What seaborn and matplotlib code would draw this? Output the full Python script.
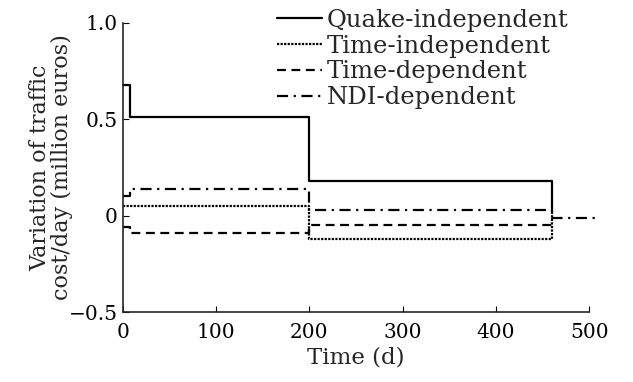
import matplotlib
matplotlib.use("Agg")
import matplotlib.pyplot as plt
import pandas as pd
import seaborn as sns

# Step series (time in days, value in million euros)
quake_t = [0, 8, 200, 460]
quake_v = [0.68, 0.51, 0.18, 0.03]

timeind_t = [0, 200, 460]
timeind_v = [0.05, -0.12, 0.03]

timedep_t = [0, 8, 200, 460]
timedep_v = [-0.06, -0.09, -0.05, -0.05]

ndi_t = [0, 8, 200, 460, 510]
ndi_v = [0.10, 0.14, 0.03, -0.01, -0.01]

labels = ["Quake-independent", "Time-independent", "Time-dependent", "NDI-dependent"]
x_ticks = [0, 100, 200, 300, 400, 500]
y_ticks = [-0.5, 0, 0.5, 1.0]
y_ticklabels = ["\u22120.5", "0", "0.5", "1.0"]

sns.set_style("ticks")
plt.rcParams["font.family"] = ["DejaVu Serif"]

fig = plt.figure(figsize=(6.33, 3.82), dpi=100)
ax = fig.add_axes([0.194, 0.183, 0.737, 0.757])

series = [
    (quake_t, quake_v, "-"),
    (timeind_t, timeind_v, (0, (1, 0.6))),
    (timedep_t, timedep_v, (0, (4, 2.5))),
    (ndi_t, ndi_v, (0, (5, 2.5, 1, 2.5))),
]
for (t, v, ls), lab in zip(series, labels):
    df = pd.DataFrame({"t": t, "v": v})
    sns.lineplot(data=df, x="t", y="v", ax=ax, drawstyle="steps-post",
                 estimator=None, color="black", linestyle=ls, linewidth=1.6,
                 label=lab, clip_on=False)

ax.set_xlim(0, 500)
ax.set_ylim(-0.5, 1.0)
ax.set_xticks(x_ticks)
ax.set_yticks(y_ticks)
ax.set_yticklabels(y_ticklabels)
ax.tick_params(direction="in", length=4, labelsize=14.5, colors="black")
ax.tick_params(axis="x", pad=8)
ax.set_xlabel("Time (d)", fontsize=16.5, labelpad=3)
ax.set_ylabel("Variation of traffic\ncost/day (million euros)", fontsize=16,
              labelpad=-3, linespacing=1.0)
sns.despine(ax=ax)
for s in ["left", "bottom"]:
    ax.spines[s].set_linewidth(1.2)

ax.legend(loc="upper left", bbox_to_anchor=(0.31, 1.083), frameon=False,
          fontsize=17.5, handlelength=1.85, handletextpad=0.2, labelspacing=0.12,
          borderaxespad=0)

fig.savefig("out.png", dpi=100)
